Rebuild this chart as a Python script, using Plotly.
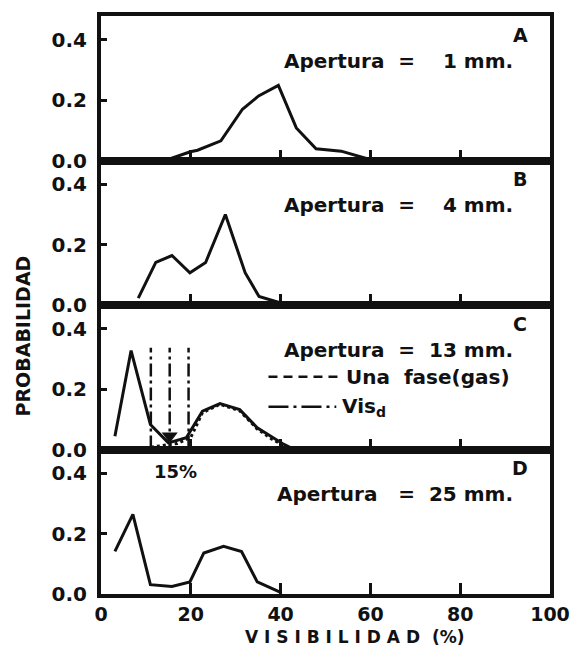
import plotly.graph_objects as go
from plotly.subplots import make_subplots

# Probability distributions of visibility (%) for four aperture sizes
vis_a = [14.3, 19.9, 21.5, 26.7, 31.5, 35.1, 39.5, 43.5, 47.9, 53.5, 59.5]
prob_a = [0.0, 0.029, 0.034, 0.065, 0.170, 0.214, 0.249, 0.108, 0.039, 0.031, 0.005]

vis_b = [8.3, 12.2, 15.8, 19.8, 23.3, 27.7, 32.1, 35.2, 40.4]
prob_b = [0.023, 0.141, 0.164, 0.107, 0.141, 0.300, 0.107, 0.028, 0.005]

vis_c = [3.1, 6.7, 11.0, 15.0, 19.0, 22.6, 26.5, 30.9, 34.8, 40.4, 42.4]
prob_c = [0.044, 0.328, 0.083, 0.022, 0.039, 0.127, 0.152, 0.132, 0.072, 0.020, 0.005]

# single-phase (gas) distribution, 13 mm
vis_gas = [9.8, 13.6, 17.0, 20.0, 22.6, 26.5, 30.9, 34.8, 38.0, 41.0]
prob_gas = [0.005, 0.012, 0.020, 0.040, 0.122, 0.150, 0.128, 0.068, 0.035, 0.010]

vis_d = [3.1, 7.1, 11.0, 15.8, 19.8, 22.9, 27.3, 31.3, 34.8, 40.0]
prob_d = [0.141, 0.264, 0.031, 0.025, 0.040, 0.136, 0.158, 0.141, 0.040, 0.005]

# discriminating visibility markers (Vis_d), 13 mm panel
vis_marks = [11.1, 15.3, 19.5]
vis_marks_top = 0.337
vis_d_value = 15.3

panel_letters = ["A", "B", "C", "D"]
panel_texts = ["Apertura  =    1 mm.", "Apertura  =    4 mm.", "Apertura  =  13 mm.", "Apertura   =  25 mm."]
x_ticks = [0, 20, 40, 60, 80, 100]
y_ticks = [0.0, 0.2, 0.4]

FONT = "DejaVu Sans"
BLACK = "#111111"


def bold(size):
    return dict(family=FONT, size=size, color=BLACK, weight="bold")


fig = make_subplots(rows=4, cols=1, shared_xaxes=True, vertical_spacing=0)

line_style = dict(color=BLACK, width=3)
fig.add_trace(go.Scatter(x=vis_a, y=prob_a, mode="lines", line=line_style), row=1, col=1)
fig.add_trace(go.Scatter(x=vis_b, y=prob_b, mode="lines", line=line_style), row=2, col=1)
fig.add_trace(go.Scatter(x=vis_gas, y=prob_gas, mode="lines",
                         line=dict(color=BLACK, width=3, dash="dot")), row=3, col=1)
fig.add_trace(go.Scatter(x=vis_c, y=prob_c, mode="lines", line=line_style), row=3, col=1)
fig.add_trace(go.Scatter(x=vis_d, y=prob_d, mode="lines", line=line_style), row=4, col=1)

for vx in vis_marks:
    fig.add_trace(go.Scatter(x=[vx, vx], y=[0.003, vis_marks_top], mode="lines",
                             line=dict(color=BLACK, width=2.5, dash="13px,4px,3px,4px")),
                  row=3, col=1)

# arrow head pointing down on the chosen Vis_d
fig.add_trace(go.Scatter(x=[vis_d_value], y=[0.045], mode="markers",
                         marker=dict(symbol="triangle-down", size=14, color=BLACK)),
              row=3, col=1)

for i in range(4):
    r = i + 1
    fig.update_xaxes(range=[0, 100], tickvals=x_ticks, ticks="inside", ticklen=11, tickwidth=2.5,
                     tickcolor=BLACK, showline=True, linewidth=4, linecolor=BLACK, mirror=True,
                     showgrid=False, zeroline=False, tickfont=bold(19), row=r, col=1)
    fig.update_yaxes(range=[0, 0.479], tickvals=y_ticks, ticktext=["0.0", "0.2", "0.4"],
                     ticks="inside", ticklen=6, tickwidth=2.5, tickcolor=BLACK,
                     showline=True, linewidth=4, linecolor=BLACK, mirror=True,
                     showgrid=False, zeroline=False, tickfont=bold(20), ticklabelstandoff=6,
                     row=r, col=1)
    xr = "x" if r == 1 else f"x{r}"
    yr = "y" if r == 1 else f"y{r}"
    fig.add_annotation(x=93.4, y=0.417, xref=xr, yref=yr, text=panel_letters[i], showarrow=False,
                       font=bold(19), xanchor="center", yanchor="middle")
    fig.add_annotation(x=92.2, y=0.33, xref=xr, yref=yr, text=panel_texts[i], showarrow=False,
                       font=bold(20), xanchor="right", yanchor="middle")

fig.update_xaxes(showticklabels=True, row=4, col=1)

# legend entries inside panel C
fig.add_shape(type="line", x0=37.3, x1=53.6, y0=0.241, y1=0.241, xref="x3", yref="y3",
              line=dict(color=BLACK, width=2.5, dash="9px,6px"))
fig.add_shape(type="line", x0=37.3, x1=52.4, y0=0.142, y1=0.142, xref="x3", yref="y3",
              line=dict(color=BLACK, width=2.5, dash="20px,5px,3px,5px"))
fig.add_annotation(x=54.2, y=0.241, xref="x3", yref="y3", text="Una  fase(gas)", showarrow=False,
                   font=bold(20), xanchor="left", yanchor="middle")
fig.add_annotation(x=53.3, y=0.142, xref="x3", yref="y3", text="Vis<sub>d</sub>", showarrow=False,
                   font=bold(20), xanchor="left", yanchor="middle")

# value of the chosen Vis_d, written just under panel C
fig.add_annotation(x=vis_d_value + 1.4, y=-0.15, xref="x3", yref="y3 domain", text="15%",
                   showarrow=False, font=bold(18), xanchor="center", yanchor="middle")

# axis titles
fig.add_annotation(x=-0.174, y=0.447, xref="paper", yref="paper", text="PROBABILIDAD",
                   textangle=-90, showarrow=False, font=bold(19),
                   xanchor="center", yanchor="middle")
fig.add_annotation(x=0.565, y=-0.074, xref="paper", yref="paper", text="V I S I B I L I D A D  (%)",
                   showarrow=False, font=bold(17),
                   xanchor="center", yanchor="middle")

fig.update_layout(
    width=582, height=655,
    margin=dict(l=101, r=25, t=13, b=61),
    paper_bgcolor="white", plot_bgcolor="white",
    showlegend=False,
    font=bold(18),
)

fig.write_html("out.html")
